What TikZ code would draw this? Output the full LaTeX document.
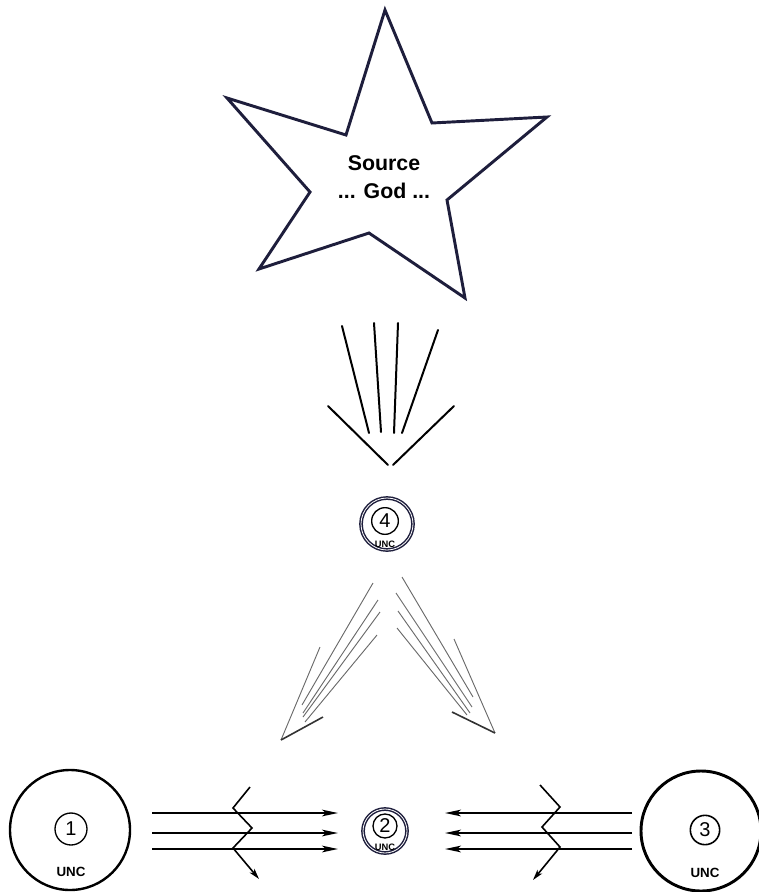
\documentclass[tikz,border=0pt]{standalone}
\usepackage{fontspec}
\setmainfont{Liberation Sans}
\definecolor{uncnavy}{HTML}{1E1E3C}
\definecolor{uncgrey}{HTML}{6A6A6A}
\usetikzlibrary{arrows.meta}

\begin{document}
\begin{tikzpicture}[x=0.75pt,y=-0.75pt,
  bigunc/.style={circle,draw,line width=1.8pt,minimum size=90pt,inner sep=0pt},
  smallunc/.style={circle,draw=uncnavy,line width=1.1pt,double=white,
    double distance=0.6pt,inner sep=0pt},
  num/.style={circle,draw,line width=1pt,inner sep=0pt,
    font=\fontsize{15}{15}\selectfont},
  lbl/.style={font=\bfseries\fontsize{10}{10}\selectfont,inner sep=0pt},
  tinylbl/.style={font=\bfseries\fontsize{7}{7}\selectfont,inner sep=0pt},
  ray/.style={line width=1.5pt,line cap=round},
  beam/.style={uncgrey,line width=0.7pt},
  barb/.style={black!80,line width=1.2pt},
  flow/.style={line width=1.4pt,-{Stealth[length=12pt,width=5pt,inset=3pt]}},
  zig/.style={line width=1.2pt,-{Stealth[length=8pt,width=4.5pt,inset=2pt]}}]
  \useasboundingbox (0,0) rectangle (759,892);

  % the source
  \draw[uncnavy,line width=2.2pt] (385,10) -- (432,123) -- (547,117) -- (447,200)
    -- (465,298) -- (369,233) -- (259,269) -- (310,192) -- (227,98) -- (346,135) -- cycle;
  \node[align=center,font=\bfseries\fontsize{16}{21.5}\selectfont] (src) at (384,177)
    {Source\\... God ...};

  % rays down to 4
  \draw[ray] (342,326) -- (369,433);
  \draw[ray] (374,323) -- (381,432);
  \draw[ray] (398,323) -- (394,433);
  \draw[ray] (438,330) -- (402,433);
  \draw[ray] (328,406) -- (388,465);
  \draw[ray] (454,406) -- (393,465);

  % unit 4
  \node[smallunc,minimum size=39pt] (u4) at (387,524) {};
  \node[num,minimum size=20pt] (n4) at (385,521) {4};
  \node[tinylbl] (t4) at (385,544) {UNC};

  % split beams
  \draw[beam] (373,583) -- (302,705);
  \draw[beam] (378,600) -- (303,713);
  \draw[beam] (380,612) -- (303,717);
  \draw[beam] (377,635) -- (305,722);
  \draw[beam] (320,647) -- (281,740);
  \draw[barb] (323,717) -- (281,740);
  \draw[beam] (402,577) -- (473,697);
  \draw[beam] (396,593) -- (472,707);
  \draw[beam] (398,611) -- (470,713);
  \draw[beam] (397,628) -- (467,715);
  \draw[beam] (454,639) -- (495,733);
  \draw[barb] (452,712) -- (495,733);

  % bottom units
  \node[bigunc] (u1) at (70,830) {};
  \node[num,minimum size=24pt] (n1) at (71,829) {1};
  \node[lbl] (t1) at (71,872) {UNC};

  \node[smallunc,minimum size=33pt] (u2) at (385,831) {};
  \node[num,minimum size=18pt] (n2) at (385,826) {2};
  \node[tinylbl] (t2) at (385,847) {UNC};

  \node[bigunc,line width=2.2pt] (u3) at (701,831) {};
  \node[num,line width=1.2pt,minimum size=22pt] (n3) at (705,830) {3};
  \node[lbl] (t3) at (705,873) {UNC};

  % flows 1 -> 2 and 3 -> 2
  \foreach \y [count=\i] in {813,833,849} {
    \coordinate (a\i) at (152,\y);
    \coordinate (b\i) at (338,\y);
    \coordinate (c\i) at (632,\y);
    \coordinate (d\i) at (445,\y);
    \draw[flow] (a\i) -- (b\i);
    \draw[flow] (c\i) -- (d\i);
  }
  \coordinate (zl) at (250,787);
  \coordinate (zle) at (259,879);
  \draw[zig] (zl) -- (233,808) -- (252,828) -- (233,848) -- (zle);
  \coordinate (zr) at (540,785);
  \coordinate (zre) at (533,880);
  \draw[zig] (zr) -- (560,807) -- (542,827) -- (560,847) -- (zre);
\end{tikzpicture}
\end{document}
